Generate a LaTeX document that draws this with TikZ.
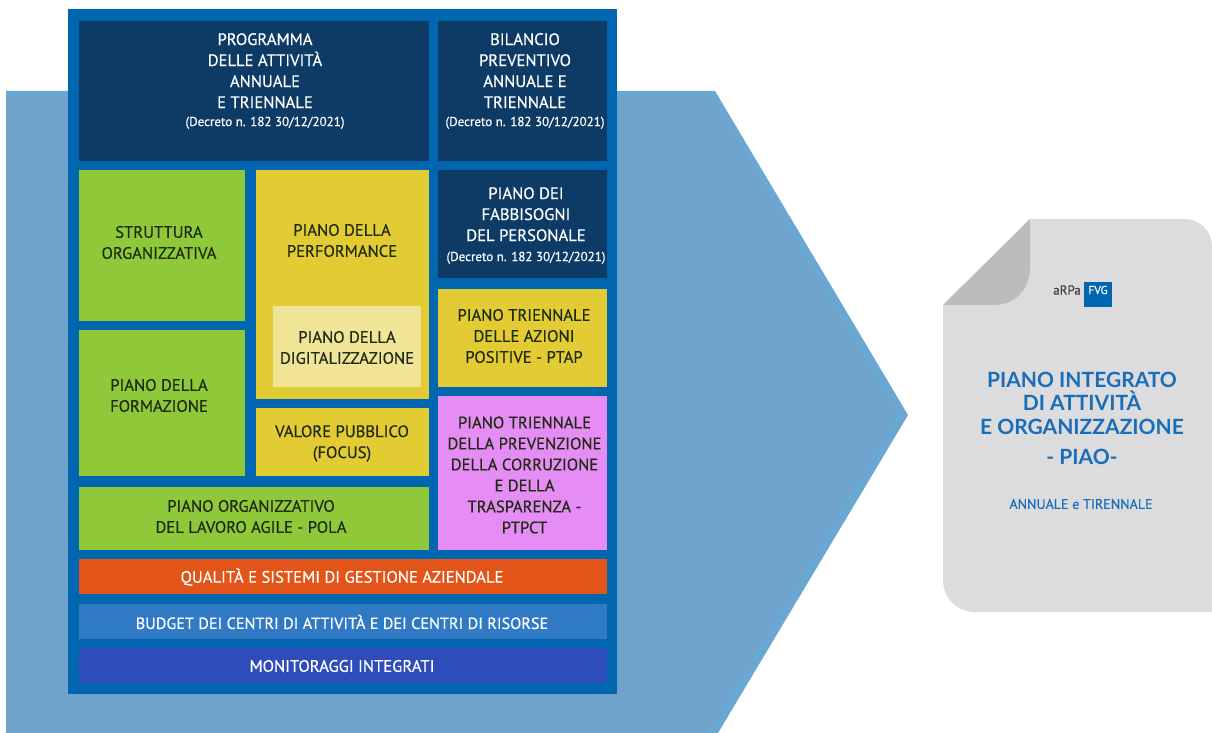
\documentclass[tikz,border=0pt]{standalone}
\usepackage{fontspec}
\setmainfont{PT Sans}[FakeBold=0.3]
\newfontfamily\medfont{PT Sans}[FakeBold=0.45]
\newfontfamily\titlefont{Lato}[Scale=1]
\definecolor{arrowfill}{HTML}{6FA3CC}
\definecolor{arrowedge}{HTML}{6BA7D3}
\definecolor{frameblue}{HTML}{0066B0}
\definecolor{navy}{HTML}{0D3B66}
\definecolor{leaf}{HTML}{8FC93A}
\definecolor{gold}{HTML}{E3CC33}
\definecolor{palegold}{HTML}{F0E596}
\definecolor{orchid}{HTML}{E58DF5}
\definecolor{flame}{HTML}{E25418}
\definecolor{midblue}{HTML}{3079C4}
\definecolor{indigo}{HTML}{2E4DBB}
\definecolor{docgrey}{HTML}{DCDCDE}
\definecolor{foldgrey}{HTML}{BBBCBE}
\definecolor{inktext}{HTML}{1F2A14}
\definecolor{titleblue}{HTML}{1A6DB8}
\tikzset{
  x=1pt,y=-1pt,
  lbl/.style={inner sep=0pt,align=center,font=\medfont\fontsize{16.6}{21}\selectfont},
  lightlbl/.style={lbl,text=white},
  darklbl/.style={lbl,text=inktext},
  blockbox/.style={inner sep=0pt,outer sep=0pt,anchor=north west}
}
\newcommand{\blk}[6]{% name, colour, x1,y1,x2,y2
  \pgfmathsetmacro{\blkw}{#5-#3}\pgfmathsetmacro{\blkh}{#6-#4}
  \node[blockbox,fill=#2,minimum width=\blkw pt,minimum height=\blkh pt] (#1) at (#3,#4) {};}
\newcommand{\decr}{{\fontsize{13}{14}\selectfont (Decreto n. 182 30/12/2021)}}
\begin{document}
\begin{tikzpicture}
\useasboundingbox (0,0) rectangle (1212,733);
\fill[white] (0,0) rectangle (1212,733);
% big arrow
\fill[arrowedge] (6,91) -- (715,91) -- (908,415) -- (718,733) -- (6,733) -- cycle;
\fill[arrowfill] (6,96) -- (710,96) -- (897,415) -- (707,733) -- (6,733) -- cycle;
% frame
\blk{frame}{frameblue}{68}{9}{617}{694}
\blk{prog}{navy}{79}{21}{429}{161}
\blk{bil}{navy}{438}{21}{607}{161}
\blk{strut}{leaf}{79}{170}{245}{321}
\blk{perf}{gold}{256}{170}{429}{399}
\blk{digi}{palegold}{273}{306}{421}{387}
\blk{fabb}{navy}{438}{170}{607}{278}
\blk{ptap}{gold}{438}{289}{607}{387}
\blk{form}{leaf}{79}{330}{245}{476}
\blk{valore}{gold}{256}{408}{429}{476}
\blk{ptpct}{orchid}{438}{396}{607}{550}
\blk{pola}{leaf}{79}{487}{429}{550}
\blk{qual}{flame}{79}{559}{607}{594}
\blk{budget}{midblue}{79}{604}{607}{639}
\blk{monit}{indigo}{79}{648}{607}{683}
% labels
\node[lightlbl,anchor=north] (tprog) at (265,33) {PROGRAMMA\\DELLE ATTIVITÀ\\ANNUALE\\E TRIENNALE\\[-3pt]\decr};
\node[lightlbl,anchor=north] (tbil) at (525,33) {BILANCIO\\PREVENTIVO\\ANNUALE E\\TRIENNALE\\[-3pt]\decr};
\node[lightlbl,anchor=north] (tfabb) at (526,187) {PIANO DEI\\FABBISOGNI\\DEL PERSONALE\\[-1pt]\decr};
\node[darklbl] (tstrut) at (159,242.5) {STRUTTURA\\ORGANIZZATIVA};
\node[darklbl] (tperf) at (342,240.5) {PIANO DELLA\\PERFORMANCE};
\node[darklbl] (tdigi) at (347,347.5) {PIANO DELLA\\DIGITALIZZAZIONE};
\node[darklbl] (tptap) at (524,336) {PIANO TRIENNALE\\DELLE AZIONI\\POSITIVE - PTAP};
\node[darklbl] (tform) at (159,395.5) {PIANO DELLA\\FORMAZIONE};
\node[darklbl] (tval) at (342,443.5) {VALORE PUBBLICO\\(FOCUS)};
\node[darklbl] (tptpct) at (524.5,475) {PIANO TRIENNALE\\DELLA PREVENZIONE\\DELLA CORRUZIONE\\E DELLA\\TRASPARENZA -\\PTPCT};
\node[darklbl] (tpola) at (251,516.5) {PIANO ORGANIZZATIVO\\DEL LAVORO AGILE - POLA};
\node[lightlbl] (tqual) at (342,577) {QUALITÀ E SISTEMI DI GESTIONE AZIENDALE};
\node[lightlbl,font=\medfont\fontsize{16.2}{21}\selectfont] (tbud) at (342,622) {BUDGET DEI CENTRI DI ATTIVITÀ E DEI CENTRI DI RISORSE};
\node[lightlbl] (tmon) at (342,666) {MONITORAGGI INTEGRATI};
% document
\fill[docgrey] (1030,219) -- (1184,219) .. controls (1200,219) and (1212,231) .. (1212,247) -- (1212,612) -- (975,612) .. controls (957,612) and (943,598) .. (943,580) -- (943,305) -- cycle;
\fill[foldgrey] (943,305) -- (1030,219) -- (1030,267) .. controls (1030,290) and (1015,305) .. (993,305) -- cycle;
% logo
\node[inner sep=0pt,font=\fontsize{13}{13}\selectfont,text=black!75] (arpa) at (1067,290) {aRPa};
\node[blockbox,fill=frameblue,minimum width=28pt,minimum height=25pt] (logo) at (1084,282) {};
\node[inner sep=0pt,text=white,font=\fontsize{11.5}{11.5}\selectfont] (fvg) at (1098,290) {FVG};
% doc text
\node[inner sep=0pt,align=center,text=titleblue,font=\titlefont\fontsize{21}{23.5}\selectfont\bfseries] (ttitle) at (1082,403) {PIANO INTEGRATO\\DI ATTIVITÀ\\E ORGANIZZAZIONE};
\node[inner sep=0pt,text=titleblue,font=\titlefont\fontsize{21}{23}\selectfont\bfseries] (tpiao) at (1082,457) {- PIAO-};
\node[inner sep=0pt,text=titleblue,font=\fontsize{14}{16}\selectfont] (tann) at (1081,504) {ANNUALE e TIRENNALE};
\end{tikzpicture}
\end{document}
